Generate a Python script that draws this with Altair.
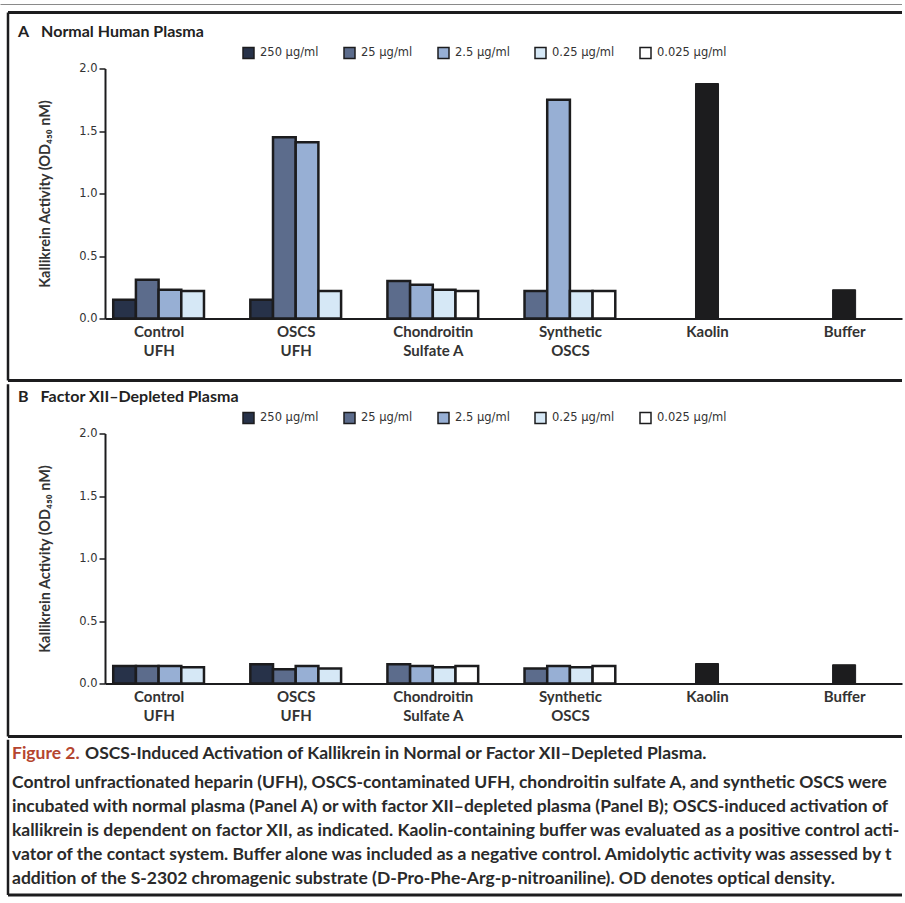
import json
import altair as alt
import pandas as pd

# ---------------- data ----------------
groups = ["Control UFH", "OSCS UFH", "Chondroitin Sulfate A", "Synthetic OSCS", "Kaolin", "Buffer"]
group_label_lines = [["Control", "UFH"], ["OSCS", "UFH"], ["Chondroitin", "Sulfate A"],
                     ["Synthetic", "OSCS"], ["Kaolin"], ["Buffer"]]
concs = ["250 μg/ml", "25 μg/ml", "2.5 μg/ml", "0.25 μg/ml", "0.025 μg/ml"]
conc_colors = ["#273249", "#5c6c8c", "#97afd4", "#d6e8f6", "#ffffff"]

# which concentrations are shown (left to right) in each four-bar group
group_concs = [
    [0, 1, 2, 3],   # Control UFH
    [0, 1, 2, 3],   # OSCS UFH
    [1, 2, 3, 4],   # Chondroitin Sulfate A
    [1, 2, 3, 4],   # Synthetic OSCS
]

# Panel A: Normal human plasma
a_values = [
    [0.15, 0.31, 0.23, 0.22],
    [0.15, 1.45, 1.41, 0.22],
    [0.30, 0.27, 0.23, 0.22],
    [0.22, 1.75, 0.22, 0.22],
]
a_kaolin_buffer = [1.88, 0.23]

# Panel B: Factor XII-depleted plasma
b_values = [
    [0.14, 0.14, 0.14, 0.13],
    [0.155, 0.115, 0.14, 0.12],
    [0.155, 0.14, 0.13, 0.14],
    [0.12, 0.14, 0.13, 0.14],
]
b_kaolin_buffer = [0.16, 0.15]

y_ticks = [0, 0.5, 1.0, 1.5, 2.0]
y_title = "Kallikrein Activity (OD₄₅₀ nM)"
title_a = "A\u2003Normal Human Plasma"
title_b = "B\u2003Factor XII\u2013Depleted Plasma"

cap_red = "Figure 2."
cap_head = "OSCS-Induced Activation of Kallikrein in Normal or Factor XII\u2013Depleted Plasma."
cap_lines = [
    "Control unfractionated heparin (UFH), OSCS-contaminated UFH, chondroitin sulfate A, and synthetic OSCS were",
    "incubated with normal plasma (Panel A) or with factor XII\u2013depleted plasma (Panel B); OSCS-induced activation of",
    "kallikrein is dependent on factor XII, as indicated. Kaolin-containing buffer was evaluated as a positive control acti-",
    "vator of the contact system. Buffer alone was included as a negative control. Amidolytic activity was assessed by the",
    "addition of the S-2302 chromagenic substrate (D-Pro-Phe-Arg-p-nitroaniline). OD denotes optical density.",
]

# ---------------- styling ----------------
W = 797
H = 250
BAR_W = 0.1655
CTRL_W = 0.168
DARK = "#1c1c1e"
TEXT = "#333333"
CAP_SIZE = 17.5
x_domain = [-0.391, W / 137.1 - 0.391]

label_expr = json.dumps(group_label_lines) + "[datum.value]"


def one():
    return alt.Data(values=[{}])


def hrule(y, x0, x1, sw, color=DARK):
    return alt.Chart(one()).mark_rule(color=color, strokeWidth=sw).encode(
        x=alt.value(x0), x2=alt.value(x1), y=alt.value(y))


def vrule(x, y0, y1, sw, color=DARK):
    return alt.Chart(one()).mark_rule(color=color, strokeWidth=sw).encode(
        x=alt.value(x), y=alt.value(y0), y2=alt.value(y1))


def label(text, x, y, size=16):
    return alt.Chart(alt.Data(values=[{"t": text}])).mark_text(
        align="left", baseline="middle", font="Lato", fontWeight="bold",
        fontSize=size, color="#222222").encode(
        x=alt.value(x), y=alt.value(y), text="t:N")


def panel(title, values, kb, decorations):
    rows = []
    for gi, (cs, vs) in enumerate(zip(group_concs, values)):
        for slot, (c, v) in enumerate(zip(cs, vs)):
            rows.append({"group": groups[gi], "gi": gi, "slot": slot,
                         "conc": concs[c], "value": v})
    df = pd.DataFrame(rows)
    kb_df = pd.DataFrame({"group": groups[4:], "gi": [4, 5], "value": kb})

    xscale = alt.Scale(domain=x_domain, nice=False, zero=False)
    yscale = alt.Scale(domain=[0, 2], nice=False)
    xaxis = alt.Axis(values=list(range(len(groups))), labelExpr=label_expr, ticks=False,
                     grid=False, domainColor=DARK, domainWidth=2, labelFont="Lato",
                     labelFontWeight="bold", labelFontSize=15, labelColor=TEXT,
                     labelPadding=6, labelLineHeight=19, labelFlush=False,
                     labelOverlap=False, title=None)
    yaxis = alt.Axis(values=y_ticks, format=".1f", tickSize=6, tickWidth=1.5,
                     tickColor=DARK, domainColor=DARK, domainWidth=2, grid=False,
                     labelFont="DejaVu Sans", labelFontSize=11.5, labelColor=TEXT,
                     labelPadding=2, title=y_title, titleFont="Lato",
                     titleFontWeight="bold", titleFontSize=14.5, titleColor=TEXT,
                     titleX=-60, titleY=H / 2, titleAngle=-90, titleAlign="center",
                     titleBaseline="middle")
    legend = alt.Legend(orient="none", legendX=137, legendY=-22, direction="horizontal",
                        title=None, symbolType="square", symbolSize=121,
                        symbolStrokeColor=DARK, symbolStrokeWidth=1.5, symbolOpacity=1,
                        labelFont="DejaVu Sans", labelFontSize=11.5, labelColor=TEXT,
                        labelOffset=5, columnPadding=22, padding=0)

    bars = alt.Chart(df).transform_calculate(
        x0=f"datum.gi + (datum.slot - 2) * {BAR_W}",
        x1=f"datum.gi + (datum.slot - 1) * {BAR_W}",
    ).mark_bar(stroke=DARK, strokeWidth=2.5).encode(
        x=alt.X("x0:Q", scale=xscale, axis=xaxis),
        x2="x1:Q",
        y=alt.Y("value:Q", scale=yscale, axis=yaxis),
        y2=alt.datum(0),
        color=alt.Color("conc:N", scale=alt.Scale(domain=concs, range=conc_colors),
                        legend=legend),
    )
    kb_bars = alt.Chart(kb_df).transform_calculate(
        x0=f"datum.gi - {CTRL_W / 2}",
        x1=f"datum.gi + {CTRL_W / 2}",
    ).mark_bar(fill=DARK, stroke=DARK, strokeWidth=1).encode(
        x=alt.X("x0:Q", scale=xscale), x2="x1:Q",
        y=alt.Y("value:Q", scale=yscale),
        y2=alt.datum(0),
    )
    return alt.layer(bars, kb_bars, label(title, -87, -37), *decorations).properties(
        width=W, height=H)


deco_a = [
    hrule(-64, -104.5, W, 1, "#8a8a8a"),
    hrule(-56, -97, W, 3),
    vrule(-97, -56, 312, 2.5),
    hrule(312, -97, W, 3),
]
deco_b = [
    vrule(-97, -49.25, 303, 2.5),
    hrule(303, -97, W, 3),
]

pA = panel(title_a, a_values, a_kaolin_buffer, deco_a)
pB = panel(title_b, b_values, b_kaolin_buffer, deco_b)

# ---------------- caption ----------------
cap_df = pd.DataFrame({"i": list(range(len(cap_lines))), "line": cap_lines})
cap_body = alt.Chart(cap_df).mark_text(
    align="left", baseline="middle", font="Lato", fontWeight="bold", fontSize=CAP_SIZE,
    color="#2a2a2a", limit=892, ellipsis="\u200b").encode(
    x=alt.value(-93),
    y=alt.Y("i:O", axis=None, scale=alt.Scale(type="point", range=[44.5, 140.5], padding=0)),
    text="line:N")
cap_t1 = alt.Chart(alt.Data(values=[{"t": cap_red}])).mark_text(
    align="left", baseline="middle", font="Lato", fontWeight="bold", fontSize=CAP_SIZE,
    color="#b5452f").encode(x=alt.value(-93), y=alt.value(15.5), text="t:N")
cap_t2 = alt.Chart(alt.Data(values=[{"t": cap_head}])).mark_text(
    align="left", baseline="middle", font="Lato", fontWeight="bold", fontSize=CAP_SIZE,
    color="#2a2a2a").encode(x=alt.value(-20), y=alt.value(15.5), text="t:N")
caption = alt.layer(
    cap_t1, cap_t2, cap_body,
    vrule(-97, 1.25, 156.5, 2.5),
    hrule(156.5, -97, W, 3),
).properties(width=W, height=158)

chart = alt.vconcat(pA, pB, caption, spacing=0).resolve_scale(
    color="independent", x="independent", y="independent"
).resolve_legend(color="independent").configure_view(stroke=None).properties(
    padding={"left": 0, "top": 3.5, "right": 0, "bottom": 0},
    background="white",
)

chart.save("out.html", embed_options={"renderer": "svg", "actions": False})
